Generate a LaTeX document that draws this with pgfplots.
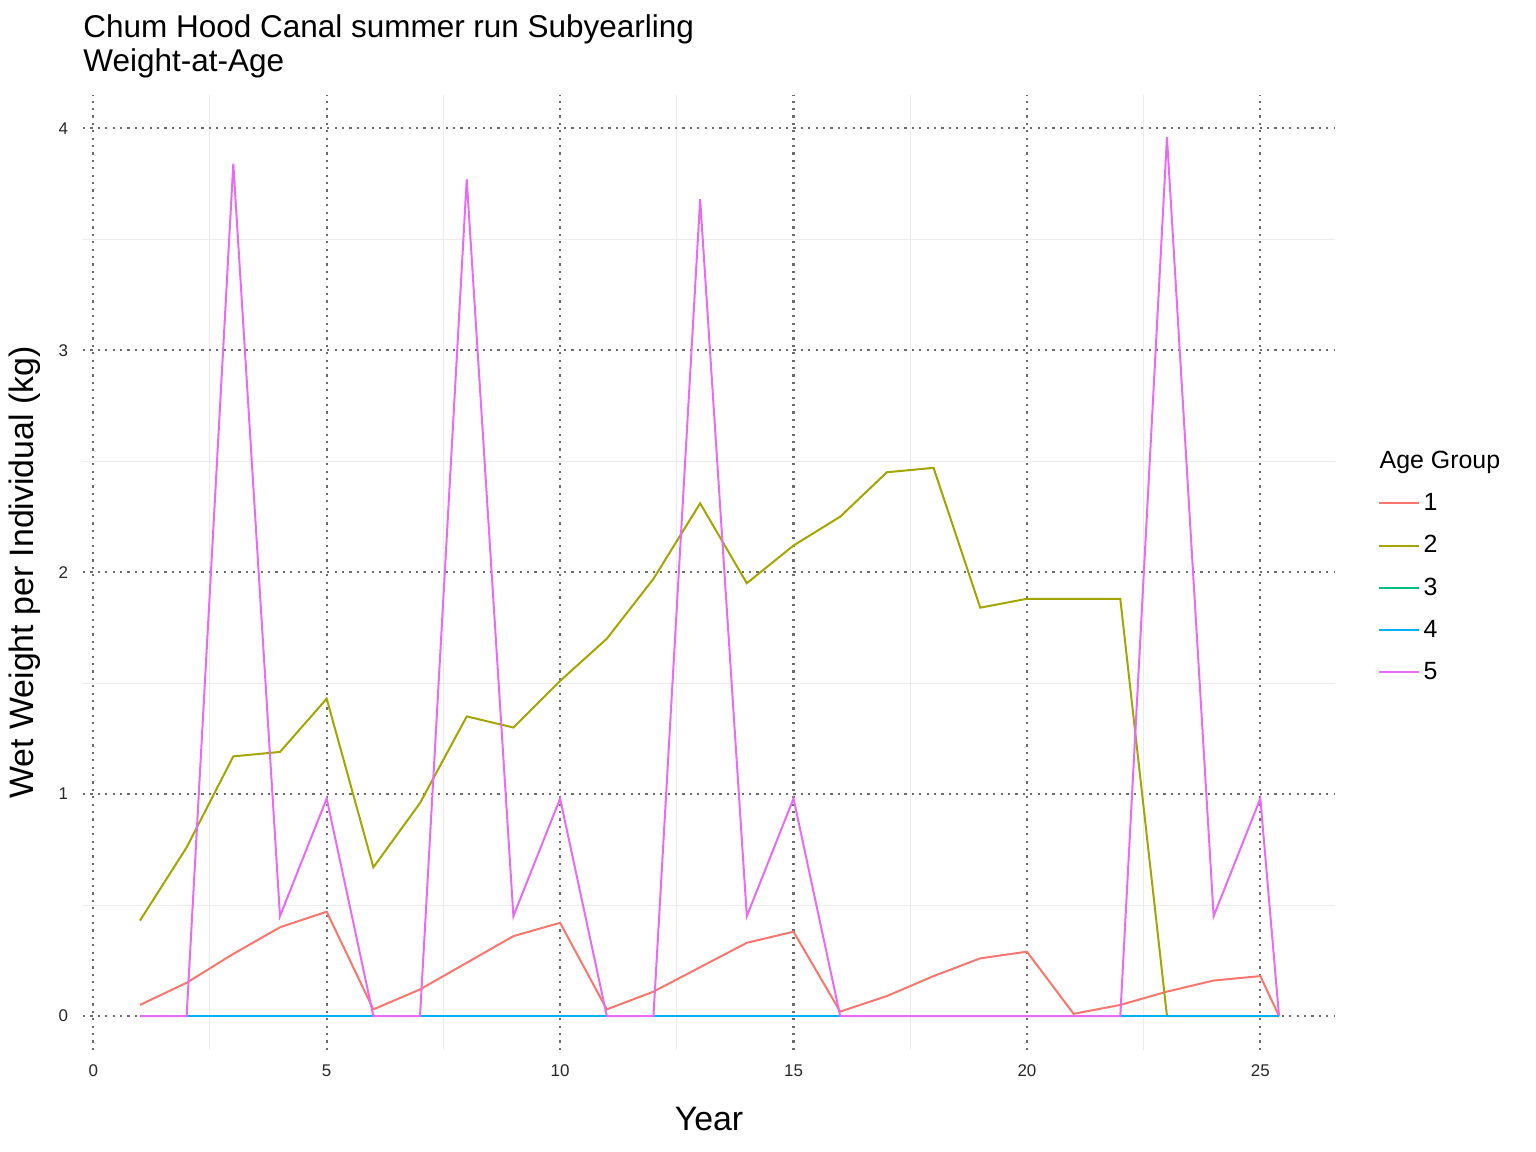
\documentclass[border=0pt]{standalone}
\usepackage{pgfplots}
\pgfplotsset{compat=1.18}
\usepackage{fontspec}
\setmainfont{Liberation Sans}
\definecolor{c1}{HTML}{F8766D}
\definecolor{c2}{HTML}{A3A500}
\definecolor{c3}{HTML}{00BF7D}
\definecolor{c4}{HTML}{00B0F6}
\definecolor{c5}{HTML}{E76BF3}
\begin{document}
\begin{tikzpicture}[x=1bp,y=1bp]
\path[use as bounding box] (0,0) rectangle (768,576);
\node[anchor=north west,align=left,font=\fontsize{15.8}{17}\selectfont,inner sep=0pt] at (41.5,569) {Chum Hood Canal summer run Subyearling\\Weight-at-Age};
\begin{axis}[
  at={(41.5bp,51bp)}, anchor=south west,
  scale only axis, width=626bp, height=477.5bp,
  xmin=-0.22, xmax=26.6, ymin=-0.153, ymax=4.15,
  axis line style={draw=none}, tick style={draw=none},
  xtick={0,5,...,25}, ytick={0,1,2,3,4},
  minor xtick={2.5,7.5,...,22.5}, minor ytick={0.5,1.5,2.5,3.5},
  grid=both,
  major grid style={gray!85!black,dash pattern=on 1.1bp off 2.6bp,line width=1.1bp},
  minor grid style={gray!15,line width=0.5pt},
  ticklabel style={font=\fontsize{8.5}{10}\selectfont,text=black!85},
  xticklabel style={yshift=-4bp},
  yticklabel style={xshift=-4bp},
  /pgf/number format/assume math mode=true,
  xlabel={Year}, ylabel={Wet Weight per Individual (kg)},
  label style={font=\fontsize{17}{20}\selectfont},
  xlabel style={yshift=-8bp}, ylabel style={yshift=2bp},
  legend style={at={(1.029,0.636)},anchor=north west,draw=none,fill=none,
    font=\fontsize{12.5}{15}\selectfont,row sep=7pt},
  legend cell align=left,
  legend image code/.code={\draw[#1,line width=1bp] (0,0) -- (20bp,0);},
  every axis plot/.append style={line width=1bp},
]
\addlegendimage{empty legend}\addlegendentry{\hspace{-22bp}Age Group}
\addplot[c1,mark=none] coordinates {(1,0.05)(2,0.15)(3,0.28)(4,0.40)(5,0.47)(6,0.03)(7,0.12)(8,0.24)(9,0.36)(10,0.42)(11,0.03)(12,0.11)(13,0.22)(14,0.33)(15,0.38)(16,0.02)(17,0.09)(18,0.18)(19,0.26)(20,0.29)(21,0.01)(22,0.05)(23,0.11)(24,0.16)(25,0.18)(25.4,0)};
\addlegendentry{1}
\addplot[c2,mark=none] coordinates {(1,0.43)(2,0.76)(3,1.17)(4,1.19)(5,1.43)(6,0.67)(7,0.96)(8,1.35)(9,1.30)(10,1.51)(11,1.70)(12,1.97)(13,2.31)(14,1.95)(15,2.12)(16,2.25)(17,2.45)(18,2.47)(19,1.84)(20,1.88)(21,1.88)(22,1.88)(23,0)(24,0)(25,0)(25.4,0)};
\addlegendentry{2}
\addplot[c3,mark=none] coordinates {(1,0)(25.4,0)};
\addlegendentry{3}
\addplot[c4,mark=none] coordinates {(1,0)(25.4,0)};
\addlegendentry{4}
\addplot[c5,mark=none] coordinates {(1,0)(2,0)(3,3.84)(4,0.45)(5,0.98)(6,0)(7,0)(8,3.77)(9,0.45)(10,0.98)(11,0)(12,0)(13,3.68)(14,0.45)(15,0.98)(16,0)(17,0)(18,0)(19,0)(20,0)(21,0)(22,0)(23,3.96)(24,0.45)(25,0.98)(25.4,0)};
\addlegendentry{5}
\end{axis}
\end{tikzpicture}
\end{document}
